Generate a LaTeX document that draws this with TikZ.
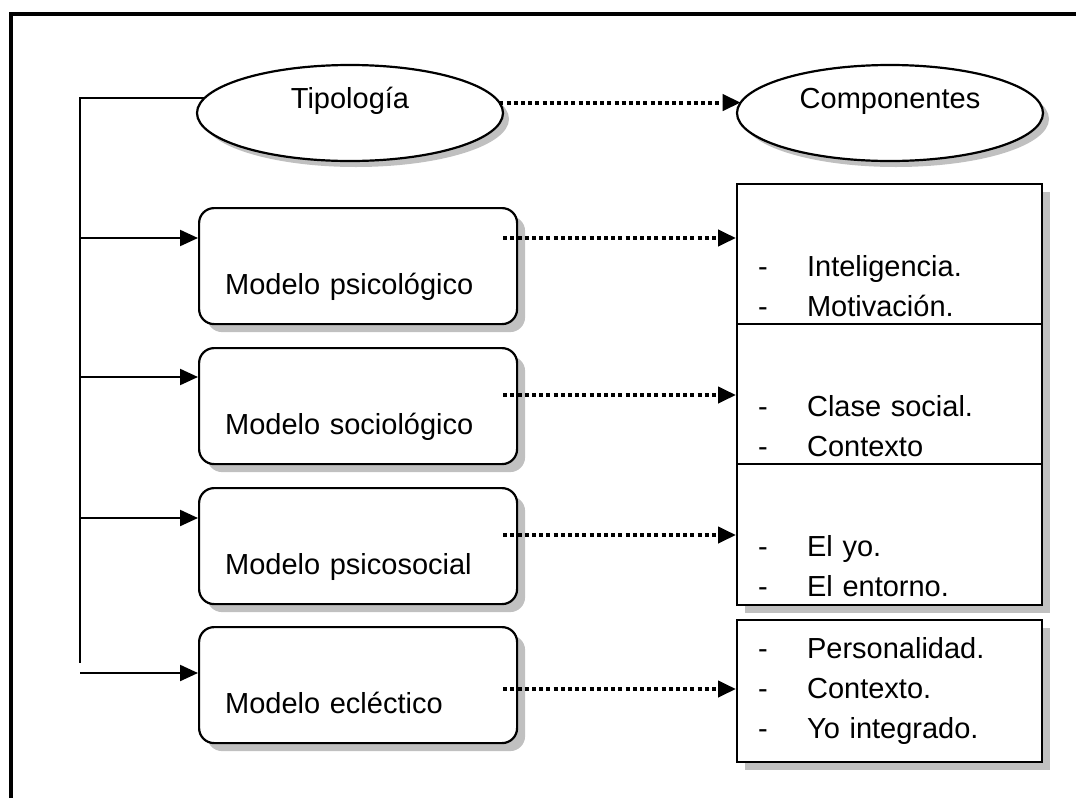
\documentclass[tikz,border=0pt]{standalone}
\usepackage{fontspec}
\setmainfont{Liberation Sans}
\usetikzlibrary{arrows.meta,shadows,shapes.geometric}
\definecolor{sombragris}{RGB}{192,192,192}
\newcommand\guion[1]{\makebox[24.5pt][l]{-}#1}
\tikzset{
  sombra/.style={drop shadow={shadow xshift=4pt,shadow yshift=-4pt,fill=sombragris,opacity=1}},
  elipse/.style={ellipse,draw,line width=1.1pt,fill=white,minimum width=153pt,minimum height=48pt,inner sep=0pt,outer sep=0pt,
    text height=10pt,text depth=15pt,drop shadow={shadow xshift=3pt,shadow yshift=-3pt,fill=sombragris,opacity=1}},
  modelo/.style={draw,line width=1.1pt,fill=white,rounded corners=7.5pt,sombra,anchor=north west,
    minimum width=159pt,minimum height=58pt,inner xsep=13pt,inner ysep=0pt,text width=133pt,align=left,
    text height=43pt,text depth=15pt},
  lista/.style={draw,line width=1.1pt,fill=white,sombra,anchor=north west,
    minimum width=152.5pt,inner xsep=10.5pt,inner ysep=0pt,text width=131.5pt,align=left},
  flecha/.style={line width=1.1pt,-{Triangle[length=9pt,width=8pt]}},
  puntos/.style={line width=2pt,dash pattern=on 2pt off 1.6pt,-{Triangle[length=9pt,width=8pt]}}
}
\begin{document}
\begin{tikzpicture}[x=0.5pt,y=-0.5pt,font={\fontsize{14.5}{20}\selectfont}]
\useasboundingbox (0,0) rectangle (1076,798);
\draw[line width=2pt] (11,798) -- (11,13.5) -- (1076,13.5);

\node[elipse] (tipo) at (350,113) {Tipología};
\node[elipse] (comp) at (890,113) {Componentes};

\node[modelo] (m1) at (198,207) {Modelo psicológico};
\node[modelo] (m2) at (198,347) {Modelo sociológico};
\node[modelo] (m3) at (198,487) {Modelo psicosocial};
\node[modelo] (m4) at (198,626) {Modelo ecléctico};

\node[lista,text height=46pt,text depth=24pt] (c1) at (736,183) {\guion{Inteligencia.}\\\guion{Motivación.}};
\node[lista,text height=46pt,text depth=24pt] (c2) at (736,323) {\guion{Clase social.}\\\guion{Contexto}};
\node[lista,text height=46pt,text depth=24.5pt] (c3) at (736,463) {\guion{El yo.}\\\guion{El entorno.}};
\node[lista,text height=19pt,text depth=52pt] (c4) at (736,619) {\guion{Personalidad.}\\\guion{Contexto.}\\\guion{Yo integrado.}};

\coordinate (tronco) at (80,663);
\draw[line width=1.1pt] (tipo.174) -| (tronco);
\draw[puntos] (tipo.4) -- (comp.176);
\foreach \i/\ya/\yd in {1/238/238,2/377/395,3/518/535,4/673/689} {
  \draw[flecha] (tronco |- 0,\ya) -- (m\i.west |- 0,\ya);
  \draw[puntos] ([xshift=-7.5pt]m\i.east |- 0,\yd) -- (c\i.west |- 0,\yd);
}
\end{tikzpicture}
\end{document}
